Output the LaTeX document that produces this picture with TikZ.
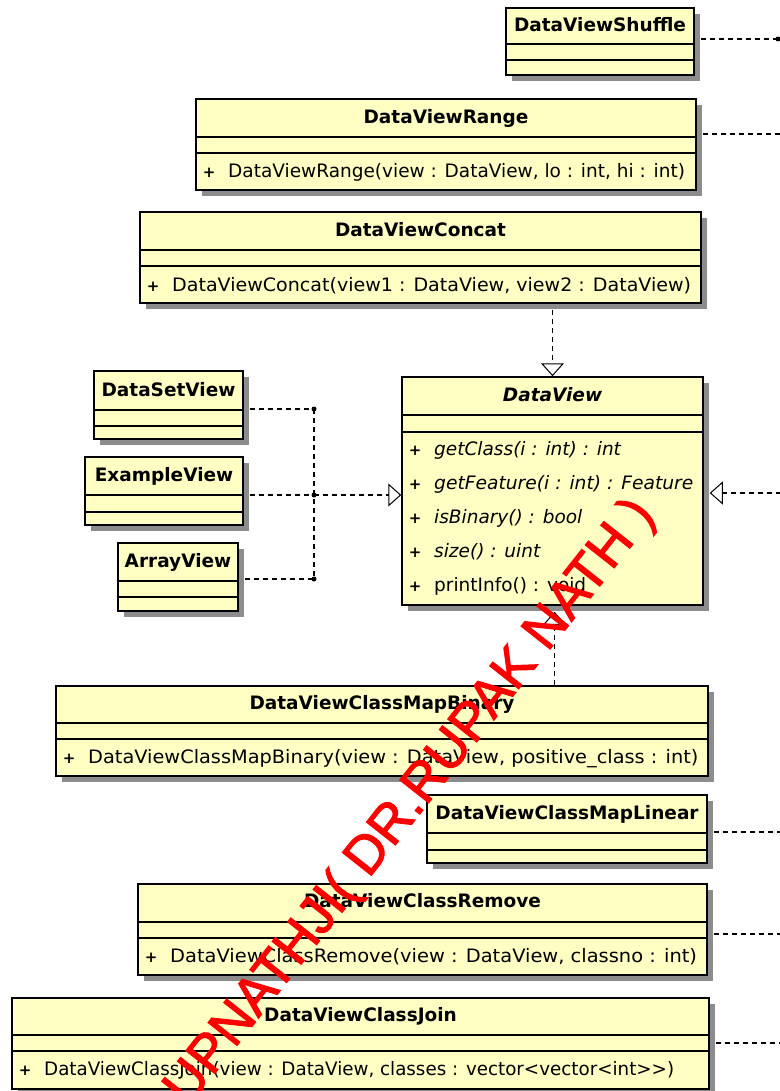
\documentclass[tikz,border=0pt]{standalone}
\usepackage{fontspec}
\setmainfont{DejaVu Sans}
\newfontfamily\wmfont[FakeBold=2]{Liberation Sans}
\usetikzlibrary{arrows.meta,fit,calc}
\definecolor{classfill}{RGB}{255,255,196}
\definecolor{shadowgray}{RGB}{140,140,140}

\tikzset{
  classbox/.style={draw=black, line width=1.5pt, fill=classfill, inner sep=0pt},
  classshadow/.style={fill=shadowgray},
  sepline/.style={draw=black, line width=1.5pt},
  classtitle/.style={font=\fontsize{18.5}{20}\selectfont\bfseries, anchor=base, inner sep=0pt},
  oper/.style={font=\fontsize{18.5}{20}\selectfont, anchor=base west, inner sep=0pt},
  dep/.style={draw=black, line width=1.3pt, dash pattern=on 5pt off 4pt},
  realize/.style={dep, -{Triangle[open, length=13pt, width=23pt, line width=1pt]}},
  jdot/.style={circle, fill=black, inner sep=0pt, minimum size=5pt},
  watermark/.style={font=\wmfont\fontsize{53.7}{58}\selectfont, text=red, inner sep=0pt}
}

% class box: name, left, top, right, bottom, first rule, second rule, title baseline, title
\newcommand\umlclass[9]{%
  \fill[classshadow] (#2+6,#3+6) rectangle (#4+6,#5+6);
  \node[classbox, fit={(#2,#3) (#4,#5)}] (#1) {};
  \draw[sepline] (#2,#6) -- (#4,#6) (#2,#7) -- (#4,#7);
  \node[classtitle] (#1-title) at ({(#2+#4)/2},#8) {#9};
}
% operation line: [horizontal scale], name, box left, baseline, text
\newcommand\umlop[5][1]{%
  \node[oper] (#2) at (#3+8,#4) {\makebox[24pt][l]{\makebox[10pt]{\fontsize{15}{15}\selectfont\bfseries +}}\scalebox{#1}[1]{#5}};
}

\begin{document}
\begin{tikzpicture}[x=1pt, y=-1pt]
\useasboundingbox (0,0) rectangle (779,1091);

\umlclass{shuffle}{506}{8}{694}{75}{44}{60}{31.5}{DataViewShuffle}

\umlclass{range}{196}{99}{696}{190}{137}{153}{123.5}{DataViewRange}
\umlop{range-op}{196}{177.5}{DataViewRange(view : DataView, lo : int, hi : int)}

\umlclass{concat}{140}{212}{701}{303}{250}{266}{236.5}{DataViewConcat}
\umlop[1.03]{concat-op}{140}{291.5}{DataViewConcat(view1 : DataView, view2 : DataView)}

\umlclass{dv}{402}{377}{703}{605}{415}{432}{401.5}{\itshape DataView}
\umlop{dv-op1}{402}{455.5}{\itshape getClass(i : int) : int}
\umlop[1.01]{dv-op2}{402}{489.5}{\itshape getFeature(i : int) : Feature}
\umlop{dv-op3}{402}{523.5}{\itshape isBinary() : bool}
\umlop{dv-op4}{402}{557.5}{\itshape size() : uint}
\umlop{dv-op5}{402}{591.5}{printInfo() : void}

\umlclass{dsv}{94}{371}{243}{439}{410}{426}{396.5}{DataSetView}
\umlclass{exv}{85}{457}{243}{525}{495}{512}{481.5}{ExampleView}
\umlclass{arv}{118}{543}{238}{611}{581}{597}{567.5}{ArrayView}

\umlclass{mapbin}{56}{686}{708}{776}{723}{739}{709.5}{DataViewClassMapBinary}
\umlop[1.045]{mapbin-op}{56}{763.5}{DataViewClassMapBinary(view : DataView, positive\_class : int)}

\umlclass{maplin}{427}{795}{707}{863}{833}{850}{819.5}{DataViewClassMapLinear}

\umlclass{remove}{138}{884}{707}{975}{922}{938}{907.5}{DataViewClassRemove}
\umlop[1.05]{remove-op}{138}{962.5}{DataViewClassRemove(view : DataView, classno : int)}

\umlclass{join}{12}{998}{709}{1089}{1035}{1051}{1021.5}{DataViewClassJoin}
\umlop[0.988]{join-op}{12}{1075.5}{DataViewClassJoin(view : DataView, classes : vector<vector<int>{}>)}

% subclasses on the left, joined into one realization
\coordinate (jtop) at (314,409);
\coordinate (jmid) at (314,495);
\coordinate (jbot) at (314,579);
\draw[dep] ($(dsv.east |- jtop)+(6,0)$) -- (jtop);
\draw[dep] ($(exv.east |- jmid)+(6,0)$) -- (jmid);
\draw[dep] ($(arv.east |- jbot)+(6,0)$) -- (jbot);
\draw[dep] (jtop) -- (jbot);
\draw[realize] (jmid) -- (dv.west |- jmid);
\node[jdot] (jd-top) at (jtop) {};
\node[jdot] (jd-mid) at (jmid) {};
\node[jdot] (jd-bot) at (jbot) {};

% vertical realizations
\draw[realize] ($(concat.south -| dv.north)+(0,6)$) -- (dv.north);
\draw[realize] ($(mapbin.north -| dv.south)+(2,0)$) -- ($(dv.south)+(2,6)$);

% links running off to the right
\coordinate (edge-shuffle) at (781,39);
\coordinate (edge-range) at (781,134);
\coordinate (edge-dv) at (781,493);
\coordinate (edge-maplin) at (781,832);
\coordinate (edge-remove) at (781,934);
\coordinate (edge-join) at (781,1043);
\draw[dep] ($(shuffle.east |- edge-shuffle)+(6,0)$) -- (edge-shuffle);
\node[jdot] (shuffle-end) at (778,39) {};
\draw[dep] ($(range.east |- edge-range)+(6,0)$) -- (edge-range);
\draw[realize] (edge-dv) -- ($(dv.east |- edge-dv)+(6,0)$);
\draw[dep] ($(maplin.east |- edge-maplin)+(6,0)$) -- (edge-maplin);
\draw[dep] ($(remove.east |- edge-remove)+(6,0)$) -- (edge-remove);
\draw[dep] ($(join.east |- edge-join)+(6,0)$) -- (edge-join);

% stamp across the diagram
\node[watermark, rotate=51.7, anchor=base east] (wm) at (656,515) {RUPNATHJI( DR.RUPAK NATH )};
\end{tikzpicture}
\end{document}
